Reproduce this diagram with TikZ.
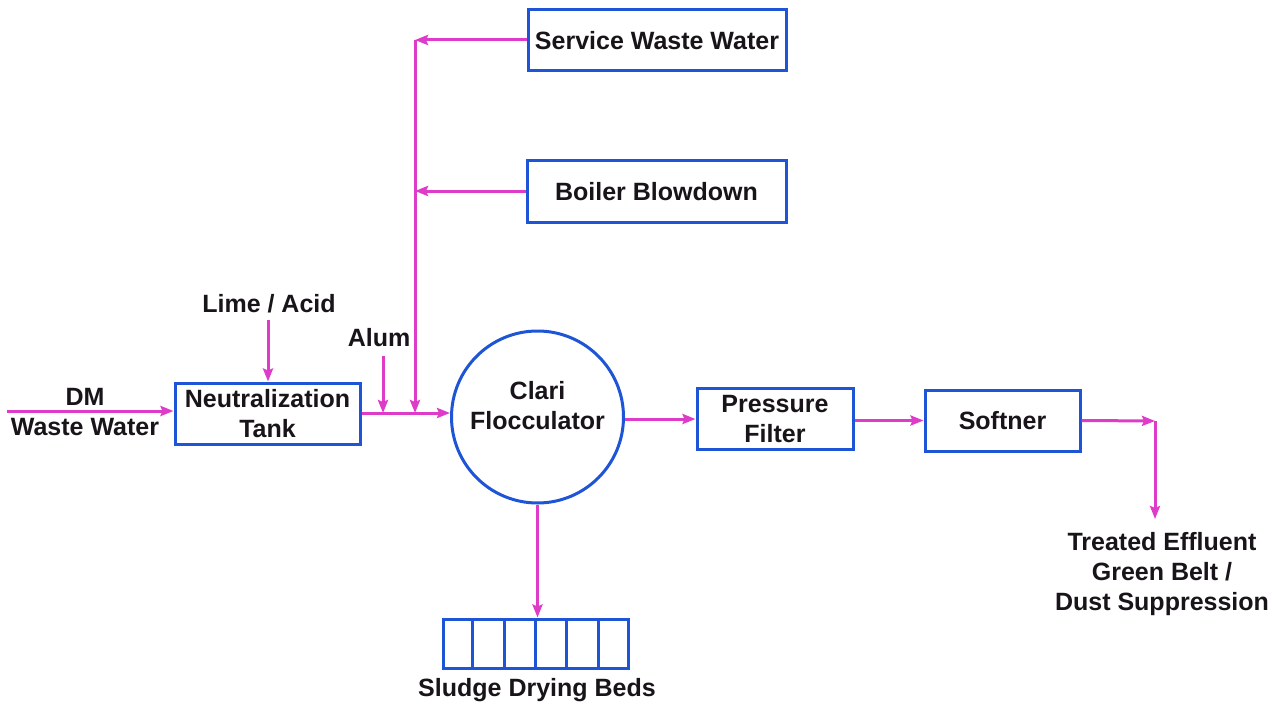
\documentclass[tikz,border=0pt]{standalone}
\usepackage{fontspec}
\setmainfont{Liberation Sans}
\usetikzlibrary{arrows.meta,calc}
\definecolor{boxblue}{RGB}{30,85,215}
\definecolor{flowmag}{RGB}{222,60,200}
\definecolor{inkblk}{RGB}{25,20,25}
\begin{document}
\begin{tikzpicture}[x=1pt,y=-1pt,
  txt/.style={font=\fontsize{25}{30}\selectfont\bfseries, text=inkblk, align=center, inner sep=0pt},
  unitbox/.style={draw=boxblue, line width=3pt, rectangle, inner sep=0pt, minimum height=61pt, txt},
  flow/.style={draw=flowmag, line width=3pt, -{Stealth[length=13pt,width=10pt,inset=2pt]}},
  plainflow/.style={draw=flowmag, line width=3pt}]
\useasboundingbox (0,0) rectangle (1285,706);
\fill[white] (0,0) rectangle (1285,706);

% boxes
\node[unitbox, minimum width=185pt] (neut) at (267.5,413.5) {Neutralization\\Tank};
\node[unitbox, minimum width=258pt] (serv) at (657,40.5) {Service Waste Water};
\node[unitbox, minimum width=259pt] (boil) at (656.5,191.5) {Boiler Blowdown};
\node[unitbox, minimum width=156pt] (pf) at (775,419) {Pressure\\Filter};
\node[unitbox, minimum width=155pt] (soft) at (1002.5,420.5) {Softner};
\node[draw=boxblue, line width=3pt, circle, minimum size=172pt, inner sep=0pt] (clari) at (537.5,417) {};
\node[txt] (claritxt) at (537.5,406) {Clari\\Flocculator};
\node[draw=boxblue, line width=3pt, rectangle, minimum width=185pt, minimum height=49pt, inner sep=0pt] (beds) at (535.5,643.5) {};
\foreach \i in {1,...,5}
  \draw[draw=boxblue, line width=3pt] ($(beds.south west)!\i/6!(beds.south east)$) -- ($(beds.north west)!\i/6!(beds.north east)$);

% labels
\node[txt] (dm) at (85,412) {DM\\Waste Water};
\node[txt] (lime) at (269,304) {Lime / Acid};
\node[txt] (alum) at (379,338) {Alum};
\node[txt] (sludge) at (537,690) {Sludge Drying Beds};
\node[txt] (treated) at (1162,574) {Treated Effluent\\Green Belt /\\Dust Suppression};

% coordinates
\coordinate (dmstart) at (7,411);
\coordinate (limetop) at (268,320);
\coordinate (alumtop) at (383,356);
\coordinate (alumjoin) at (383,413);
\coordinate (coltop) at (415,40);
\coordinate (colmid) at (415,191);
\coordinate (coljoin) at (415,413);
\coordinate (corner) at (1155,421);
\coordinate (outend) at (1155,519);

% flows
\draw[flow] (dmstart) -- (neut.west |- dmstart);
\draw[flow] (limetop) -- (limetop |- neut.north);
\draw[flow] (alumtop) -- (alumjoin);
\draw[flow] (serv.west |- coltop) -- (coltop);
\draw[flow] (boil.west |- colmid) -- (colmid);
\draw[flow] (coltop) -- (coljoin);
\draw[flow] (neut.east |- coljoin) -- (clari.west |- coljoin);
\draw[flow] (clari.east |- pf.west) -- (pf.west);
\draw[flow] (pf.east |- soft.west) -- (soft.west);
\draw[flow] (soft.east) -- (corner);
\draw[flow] (corner) -- (outend);
\draw[flow] (clari.south) -- (clari.south |- beds.north);
\end{tikzpicture}
\end{document}
